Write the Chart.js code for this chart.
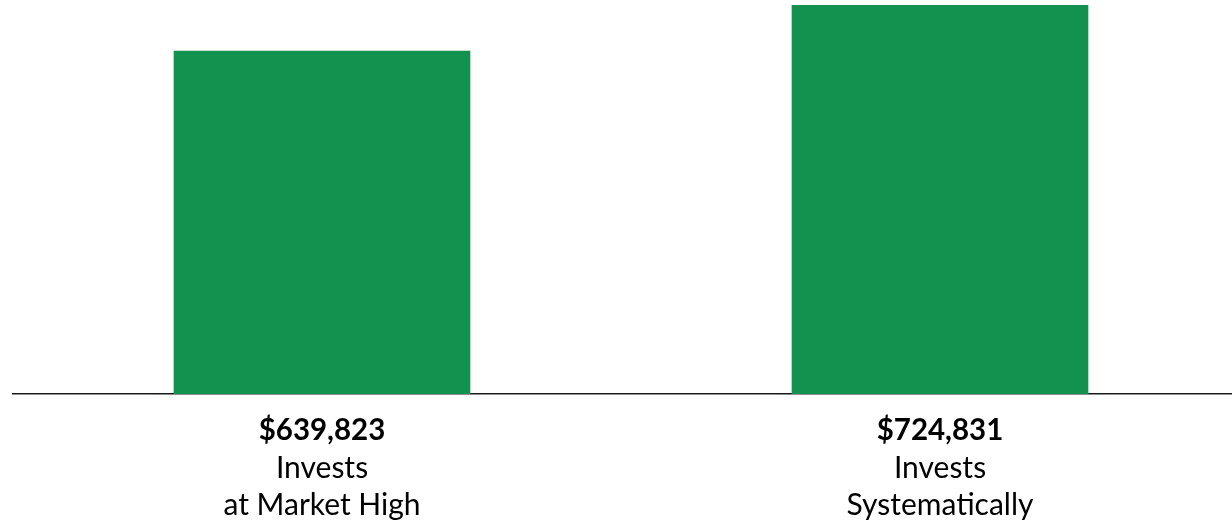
<!DOCTYPE html>
<html>
<head>
<meta charset="utf-8">
<script src="https://cdn.jsdelivr.net/npm/chart.js@4"></script>
<style>
  html, body { margin: 0; padding: 0; background: #fff; overflow: hidden; width: 1232px; height: 522px; }
  #wrap { position: relative; width: 1250px; height: 522px; }
</style>
</head>
<body>
<div id="wrap"><canvas id="c"></canvas></div>
<script>
const categories = ["Invests at Market High", "Invests Systematically"];
const values = [639823, 724831];
const valueLabels = ["$639,823", "$724,831"];
const descLabels = [["Invests", "at Market High"], ["Invests", "Systematically"]];

const FONT = "Lato, 'Open Sans', sans-serif";

new Chart(document.getElementById('c'), {
  type: 'bar',
  data: {
    labels: valueLabels,
    datasets: [{
      label: 'Value',
      data: values,
      backgroundColor: '#13914E',
      borderWidth: 0,
      barThickness: 296
    }]
  },
  options: {
    responsive: true,
    maintainAspectRatio: false,
    animation: false,
    layout: { padding: { left: 13, right: 1, top: 0, bottom: 0 } },
    plugins: { legend: { display: false }, tooltip: { enabled: false } },
    scales: {
      y: { display: false, min: 0, max: 735000 },
      x: {
        type: 'category',
        position: 'bottom',
        weight: 0,
        offset: true,
        grid: { display: false, drawTicks: false },
        border: { display: true, color: '#1a1a1a', width: 1.5 },
        ticks: { color: '#000', padding: 19, maxRotation: 0, autoSkip: false,
                 font: { family: FONT, size: 29.5, weight: 'bold', lineHeight: 1.2 } },
        afterFit: (s) => { s.height = 56; }
      },
      x2: {
        type: 'category',
        position: 'bottom',
        weight: 1,
        offset: true,
        labels: descLabels,
        grid: { display: false, drawTicks: false },
        border: { display: false },
        ticks: { color: '#000', padding: 0, maxRotation: 0, autoSkip: false,
                 font: { family: FONT, size: 30, weight: 'normal', lineHeight: 1.24 } },
        afterFit: (s) => { s.height = 72; }
      }
    }
  }
});
</script>
</body>
</html>
